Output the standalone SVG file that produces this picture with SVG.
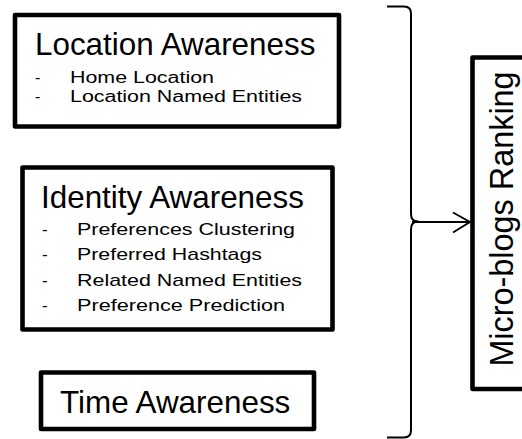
<svg xmlns="http://www.w3.org/2000/svg" width="522" height="439" viewBox="0 0 522 439">
  <style>
    .box { fill: #ffffff; stroke: #000000; stroke-width: 4.6; stroke-linejoin: round; }
    .title { font-family: "Liberation Sans", Arial, sans-serif; font-size: 31.4px; fill: #000000; }
    .item { font-family: "Liberation Sans", Arial, sans-serif; font-size: 17px; fill: #000000; }
    .tight { font-size: 16px; }
    .conn { fill: none; stroke: #000000; stroke-width: 2; stroke-linecap: butt; stroke-linejoin: round; }
  </style>
  <rect width="522" height="439" fill="#ffffff"/>

  <g id="location-awareness">
    <rect class="box" x="15" y="15" width="324" height="111.5"/>
    <text class="title" x="35" y="55">Location Awareness</text>
    <text class="item tight" x="35" y="83">-</text>
    <text class="item tight" x="70" y="83" textLength="144" lengthAdjust="spacingAndGlyphs">Home Location</text>
    <text class="item tight" x="35" y="101.5">-</text>
    <text class="item tight" x="70" y="101.5" textLength="232" lengthAdjust="spacingAndGlyphs">Location Named Entities</text>
  </g>

  <g id="identity-awareness">
    <rect class="box" x="22.5" y="167.5" width="310" height="162"/>
    <text class="title" x="41" y="208">Identity Awareness</text>
    <text class="item" x="42" y="235">-</text>
    <text class="item" x="77" y="235" textLength="218" lengthAdjust="spacingAndGlyphs">Preferences Clustering</text>
    <text class="item" x="42" y="260">-</text>
    <text class="item" x="77" y="260" textLength="185" lengthAdjust="spacingAndGlyphs">Preferred Hashtags</text>
    <text class="item" x="42" y="286">-</text>
    <text class="item" x="77" y="286" textLength="225" lengthAdjust="spacingAndGlyphs">Related Named Entities</text>
    <text class="item" x="42" y="311">-</text>
    <text class="item" x="77" y="311" textLength="208" lengthAdjust="spacingAndGlyphs">Preference Prediction</text>
  </g>

  <g id="time-awareness">
    <rect class="box" x="41" y="372.5" width="273" height="56.5"/>
    <text class="title" x="60" y="413">Time Awareness</text>
  </g>

  <g id="micro-blogs-ranking">
    <rect class="box" x="472.5" y="57.5" width="70" height="331.5"/>
    <text class="title" transform="translate(513,219) rotate(-90)" x="0" y="0" text-anchor="middle" style="font-size:32.4px">Micro-blogs Ranking</text>
  </g>

  <g id="connectors">
    <path class="conn" d="M 387 6.5 L 404 6.5 Q 411 6.5 411 13.5 L 411 214 Q 411 221.5 418 221.5 Q 411 221.5 411 229 L 411 430 Q 411 437.5 404 437.5 L 387 437.5"/>
    <path class="conn" d="M 412 222 L 469 222"/>
    <path class="conn" d="M 453 212.5 L 470 222 L 453 232.5"/>
  </g>
</svg>
